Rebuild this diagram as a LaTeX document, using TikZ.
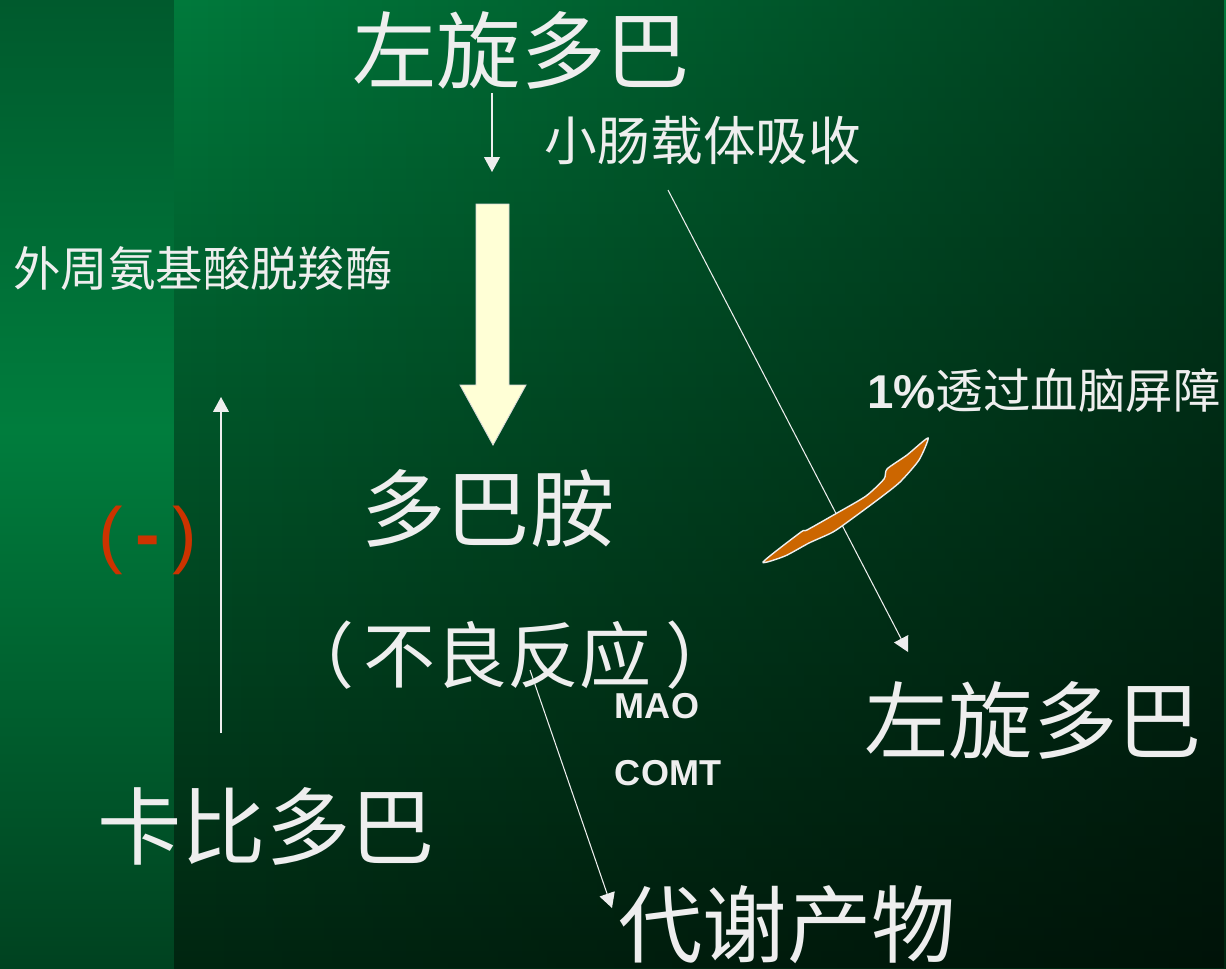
\documentclass[tikz,border=0pt]{standalone}
\usepackage{fontspec}
\setmainfont{Noto Sans CJK SC}
\newfontfamily\arialfont{Liberation Sans}
\usetikzlibrary{arrows.meta,fadings}
\definecolor{ltext}{HTML}{EEEEEE}
\definecolor{stripTop}{HTML}{005A2D}
\definecolor{stripMid}{HTML}{007D3D}
\definecolor{stripBot}{HTML}{004220}
\definecolor{mainTop}{HTML}{007A3C}
\definecolor{mainBot}{HTML}{002611}
\definecolor{inhibit}{HTML}{CC3300}
\definecolor{barrier}{HTML}{CC6600}
\definecolor{dopafill}{HTML}{FFFFD6}

\tikzstyle{bigtext}=[text=ltext,
    inner sep=0pt,
    font=\fontsize{48}{50}\selectfont]
\tikzstyle{midtext}=[text=ltext,
    inner sep=0pt,
    font=\fontsize{30}{32}\selectfont]
\tikzstyle{smalltext}=[text=ltext,
    inner sep=0pt,
    font=\fontsize{27}{29}\selectfont]
\tikzstyle{enzyme}=[text=ltext,
    inner sep=0pt,
    font=\arialfont\bfseries\fontsize{20.5}{22}\selectfont]
\tikzstyle{thinarrow}=[draw=ltext,
    line width=0.8pt,
    -{Triangle[length=8.5pt,width=9pt]}]

\begin{document}
\begin{tikzpicture}[x=0.02cm,y=-0.02cm]
    \useasboundingbox (0,0) rectangle (1226,968);
    \fill[top color=stripTop,bottom color=stripMid] (0,0) rectangle (174,430);
    \fill[top color=stripMid,bottom color=stripBot] (0,430) rectangle (174,968);
    \fill[top color=mainTop,bottom color=mainBot] (174,0) rectangle (1226,968);
    \fill[black,opacity=0.5,path fading=west] (174,0) rectangle (1226,968);

    \node (ldTop) [bigtext] at (521,50) {左旋多巴};
    \node (absorb) [midtext] at (703,140) {小肠载体吸收};
    \node (ddc) [smalltext] at (203,268) {外周氨基酸脱羧酶};
    \node (bbb) [smalltext] at (1044,390) {{\arialfont\bfseries 1\%}透过血脑屏障};
    \node (dopamine) [bigtext] at (488,508) {多巴胺};
    \node (adverse) [text=ltext,inner sep=0pt,font=\fontsize{41}{43}\selectfont] at (510,655) {（\hspace{5.5pt}不良反应\hspace{8pt}）};
    \node (mao) [enzyme] at (657,706) {MAO};
    \node (comt) [enzyme] at (668,773) {COMT};
    \node (ldBrain) [bigtext] at (1033,720) {左旋多巴};
    \node (carbidopa) [bigtext] at (266,826) {卡比多巴};
    \node (metab) [bigtext] at (787,925) {代谢产物};
    \node (minus) [text=inhibit,inner sep=0pt,font=\arialfont\fontsize{42}{44}\selectfont] at (148,540) {(\hspace{7pt}{\bfseries -}\hspace{7pt})};

    \coordinate (absorbIn) at (492,93);
    \coordinate (absorbOut) at (492,172);
    \coordinate (crossIn) at (668,190);
    \coordinate (crossOut) at (908,652);
    \coordinate (blockIn) at (221,733);
    \coordinate (blockOut) at (221,397);
    \coordinate (metabIn) at (530,670);
    \coordinate (metabOut) at (612,908);

    \fill[dopafill,draw=ltext!80!gray,line width=0.5pt] (476,204) -- (509,204) -- (509,385) -- (526,385)
        -- (493,445) -- (460,385) -- (476,385) -- cycle;
    \draw [thinarrow] (absorbIn) -- (absorbOut);
    \draw [thinarrow,line width=0.6pt] (crossIn) -- (crossOut);
    \draw [thinarrow] (blockIn) -- (blockOut);
    \draw [thinarrow,line width=0.6pt] (metabIn) -- (metabOut);

    \fill[barrier,draw=ltext,line width=0.8pt] plot[smooth cycle,tension=0.4] coordinates {
        (763,562) (801,532) (807,530) (837,513) (866,496) (884,479) (887,469) (907,455) (928,438)
        (919,460) (900,482) (880,498) (853,518) (833,532) (809,543) (785,556)};
\end{tikzpicture}
\end{document}
